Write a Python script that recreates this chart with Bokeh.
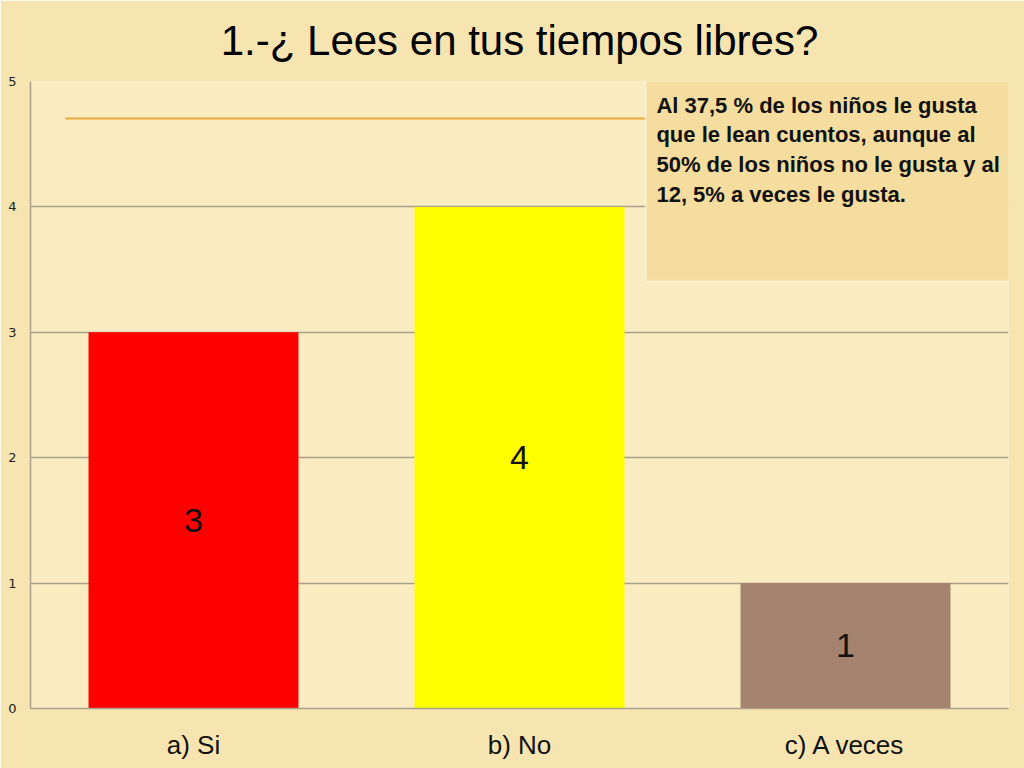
from bokeh.plotting import figure
from bokeh.models import FactorRange, Range1d, FixedTicker, BoxAnnotation, Label, ColumnDataSource
from bokeh.embed import file_html
from bokeh.resources import INLINE

# ---- data ----
title_text = "1.-¿ Lees en tus tiempos libres?"
categories = ["a) Si", "b) No", "c) A veces"]
counts = [3, 4, 1]
bar_colors = ["#ff0000", "#ffff00", "#a5836e"]
y_ticks = [0, 1, 2, 3, 4, 5]
note_lines = [
    "Al  37,5 %  de los  niños le gusta",
    "que le lean cuentos, aunque al",
    "50% de los niños no le gusta y al",
    "12, 5% a veces le gusta.",
]

GRID = "#aaa18c"
BG = "#f6e5b0"

p = figure(
    width=1024, height=768,
    x_range=FactorRange(factors=categories, range_padding=0),
    y_range=Range1d(0, 5),
    output_backend="svg", toolbar_location=None,
    min_border_left=30, min_border_right=16, min_border_top=80, min_border_bottom=60,
)
p.border_fill_color = BG
p.background_fill_color = "#f9ecc1"
p.outline_line_color = None

p.title.text = title_text
p.title.align = "center"
p.title.vertical_align = "top"
p.title.text_font = "Liberation Sans"
p.title.text_font_size = "42px"
p.title.text_font_style = "normal"
p.title.text_color = "#000000"
p.title.offset = 0
p.title.standoff = 32
p.title.text_line_height = 0.9
p.title.padding = 0

# grid
p.xgrid.grid_line_color = None
p.ygrid.ticker = FixedTicker(ticks=y_ticks)
p.ygrid.grid_line_color = GRID
p.ygrid.grid_line_width = 1.5

# y axis
p.yaxis.ticker = FixedTicker(ticks=y_ticks)
p.yaxis.axis_line_color = GRID
p.yaxis.axis_line_width = 1.5
p.yaxis.major_tick_line_color = None
p.yaxis.minor_tick_line_color = None
p.yaxis.major_label_text_font = "DejaVu Sans"
p.yaxis.major_label_text_font_size = "13px"
p.yaxis.major_label_text_color = "#222222"
p.yaxis.major_label_standoff = 8

# x axis
p.xaxis.axis_line_color = GRID
p.xaxis.axis_line_width = 1.5
p.xaxis.major_tick_line_color = None
p.xaxis.minor_tick_line_color = None
p.xaxis.major_label_text_font = "Liberation Sans"
p.xaxis.major_label_text_font_size = "26px"
p.xaxis.major_label_text_color = "#111111"
p.xaxis.major_label_standoff = 15

# decorative orange line
p.segment(x0=[0.107], y0=[4.705], x1=[1.9], y1=[4.705], line_color="#e8aa3c", line_width=2)

src = ColumnDataSource(dict(cat=categories, val=counts, color=bar_colors,
                            mid=[v / 2 for v in counts], lbl=[str(v) for v in counts]))
p.vbar(x="cat", top="val", width=0.644, fill_color="color", line_color=None, source=src)
p.text(x="cat", y="mid", text="lbl", text_align="center", text_baseline="middle",
       text_font_size="34px", text_color="#111111", text_font={"value": "Liberation Sans"}, source=src)

# note box
box = BoxAnnotation(left=1.887, right=3.1, top=5.016, bottom=3.408,
                    fill_color="#f4dd9e", fill_alpha=1.0, line_color="#ffffff", line_width=3, level="overlay")
p.add_layout(box)
line_y = [4.809, 4.578, 4.339, 4.100]
for t, yy in zip(note_lines, line_y):
    p.add_layout(Label(x=1.92, y=yy, text=t, text_baseline="middle", text_align="left",
                       text_font="Liberation Sans", text_font_size="22px",
                       text_font_style="bold", text_color="#111111", level="overlay"))

open("out.html", "w").write(file_html(p, INLINE))
